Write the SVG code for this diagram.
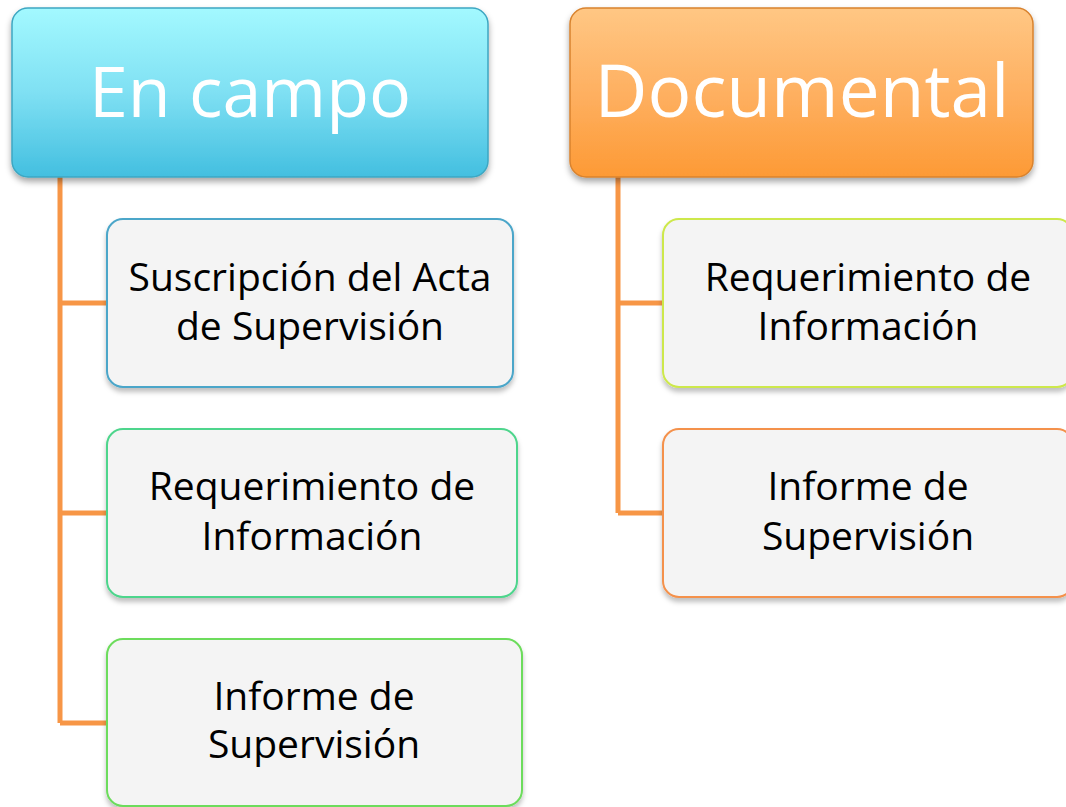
<svg xmlns="http://www.w3.org/2000/svg" width="1066" height="807" viewBox="0 0 1066 807">
<defs>
  <linearGradient id="gBlue" x1="0" y1="0" x2="0" y2="1">
    <stop offset="0" stop-color="#a3f9ff"/>
    <stop offset="0.5" stop-color="#7fe0f3"/>
    <stop offset="1" stop-color="#43bfe0"/>
  </linearGradient>
  <linearGradient id="gOrange" x1="0" y1="0" x2="0" y2="1">
    <stop offset="0" stop-color="#ffc784"/>
    <stop offset="0.5" stop-color="#feb061"/>
    <stop offset="1" stop-color="#fd9a35"/>
  </linearGradient>
  <filter id="shadow" x="-5%" y="-10%" width="110%" height="125%">
    <feDropShadow dx="0" dy="4" stdDeviation="3" flood-color="#000" flood-opacity="0.35"/>
  </filter>
  <filter id="shadowS" x="-5%" y="-10%" width="110%" height="125%">
    <feDropShadow dx="0" dy="4" stdDeviation="2.5" flood-color="#000" flood-opacity="0.25"/>
  </filter>
</defs>
<style>
  .head { font-family: "Open Sans", "Liberation Sans", sans-serif; fill: #ffffff; text-anchor: middle; }
  .child { font-family: "Open Sans", "Liberation Sans", sans-serif; font-size: 39px; fill: #000000; text-anchor: middle; }
  .box { fill: #f4f4f4; stroke-width: 2; filter: url(#shadowS); }
  .conn { fill: none; stroke: #f79646; stroke-width: 5; }
</style>
<rect width="1066" height="807" fill="#ffffff"/>
<g id="connectors">
  <path class="conn" d="M60 177 V723 M60 303 H107 M60 513 H107 M60 723 H107"/>
  <path class="conn" d="M618 177 V513 M618 303 H663 M618 513 H663"/>
</g>
<g id="en-campo">
  <rect x="12" y="8" width="476" height="169" rx="16" fill="url(#gBlue)" stroke="#3ea7c2" stroke-width="1.5" filter="url(#shadow)"/>
  <text class="head" x="250" y="117" font-size="70">En campo</text>
</g>
<g id="documental">
  <rect x="570" y="8" width="463" height="169" rx="16" fill="url(#gOrange)" stroke="#d9832e" stroke-width="1.5" filter="url(#shadow)"/>
  <text class="head" x="802" y="117" font-size="73">Documental</text>
</g>
<g id="c1">
  <rect class="box" x="107" y="219" width="406" height="168" rx="16" stroke="#4ba6c9"/>
  <text class="child" x="310" y="291">Suscripción del Acta</text>
  <text class="child" x="310" y="340">de Supervisión</text>
</g>
<g id="c2">
  <rect class="box" x="107" y="429" width="410" height="168" rx="16" stroke="#4ed58c"/>
  <text class="child" x="312" y="500">Requerimiento de</text>
  <text class="child" x="312" y="550">Información</text>
</g>
<g id="c3">
  <rect class="box" x="107" y="639" width="415" height="167" rx="16" stroke="#6cdc5b"/>
  <text class="child" x="314" y="710">Informe de</text>
  <text class="child" x="314" y="758">Supervisión</text>
</g>
<g id="d1">
  <rect class="box" x="663" y="219" width="410" height="168" rx="16" stroke="#cde84b"/>
  <text class="child" x="868" y="291">Requerimiento de</text>
  <text class="child" x="868" y="340">Información</text>
</g>
<g id="d2">
  <rect class="box" x="663" y="429" width="410" height="168" rx="16" stroke="#f4914b"/>
  <text class="child" x="868" y="500">Informe de</text>
  <text class="child" x="868" y="550">Supervisión</text>
</g>
</svg>
